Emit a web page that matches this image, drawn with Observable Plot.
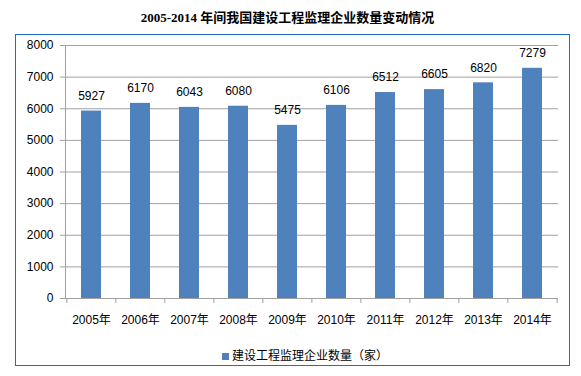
<!DOCTYPE html>
<html><head><meta charset="utf-8">
<script src="https://cdn.jsdelivr.net/npm/d3@7"></script>
<script src="https://cdn.jsdelivr.net/npm/@observablehq/plot@0.6"></script>
<style>
body{margin:0;background:#fff;}
#wrap{position:relative;width:581px;height:376px;overflow:hidden;font-family:"Liberation Sans","Noto Sans CJK SC",sans-serif;}
#title{position:absolute;left:-3px;top:7px;width:581px;text-align:center;font:bold 13px "Liberation Serif","Noto Sans CJK SC",serif;color:#000;}
#frame{position:absolute;left:15px;top:34px;width:553px;height:330px;border:1px solid #1f6fbf;box-sizing:content-box;}
#chart{position:absolute;left:0;top:34px;}
#legend{position:absolute;left:222px;top:346px;font-size:12px;color:#000;display:flex;align-items:center;}
#legend span.sw{display:inline-block;width:7px;height:7px;background:#4f81bd;margin-right:3px;margin-top:4px;}
</style></head>
<body><div id="wrap">
<div id="title">2005-2014 年间我国建设工程监理企业数量变动情况</div>
<div id="frame"></div>
<div id="chart"></div>
<div id="legend"><span class="sw"></span><span id="legtext"></span></div>
</div>
<script>
const years = ["2005年","2006年","2007年","2008年","2009年","2010年","2011年","2012年","2013年","2014年"];
const counts = [5927,6170,6043,6080,5475,6106,6512,6605,6820,7279];
const yTicks = [0,1000,2000,3000,4000,5000,6000,7000,8000];
const seriesName = "建设工程监理企业数量（家）";

document.getElementById("legtext").textContent = seriesName;
const data = years.map((y,i)=>({year:y, value:counts[i]}));

const W = 581, H = 300, mL = 65, mR = 23, mT = 11, mB = 36;
const pIn = 0.6, pOut = 0.3;
const step = (W - mL - mR) / (years.length - pIn + 2*pOut);
const tickLen = 5 * 8000 / (H - mT - mB);

const chart = Plot.plot({
  width: W, height: H,
  marginLeft: mL, marginRight: mR, marginTop: mT, marginBottom: mB,
  style: {fontFamily: '"Liberation Sans","Noto Sans CJK SC",sans-serif', fontSize: "12px", color: "#000", background: "transparent"},
  x: {domain: years, paddingInner: pIn, paddingOuter: pOut, label: null},
  y: {domain: [0, 8000], label: null},
  marks: [
    Plot.ruleY(yTicks, {stroke: "#a0a0a0", strokeWidth: 1}),
    Plot.axisY({ticks: yTicks, tickSize: 5, tickPadding: 7, stroke: "#a0a0a0", fill: "#000", fontSize: 12, tickFormat: d => String(d)}),
    Plot.frame({anchor: "left", stroke: "#a0a0a0"}),
    Plot.barY(data, {x: "year", y: "value", fill: "#4f81bd"}),
    Plot.ruleX(years, {x: d => d, dx: -step/2, y1: 0, y2: -tickLen, stroke: "#a0a0a0"}),
    Plot.ruleX([years[years.length-1]], {x: d => d, dx: step/2, y1: 0, y2: -tickLen, stroke: "#a0a0a0"}),
    Plot.axisX({tickSize: 0, tickPadding: 17, fontSize: 12, fill: "#000"}),
    Plot.text(data, {x: "year", y: "value", text: d => String(d.value), dy: -15, fontSize: 12, fill: "#000"})
  ]
});
document.getElementById("chart").appendChild(chart);
</script>
</body></html>
